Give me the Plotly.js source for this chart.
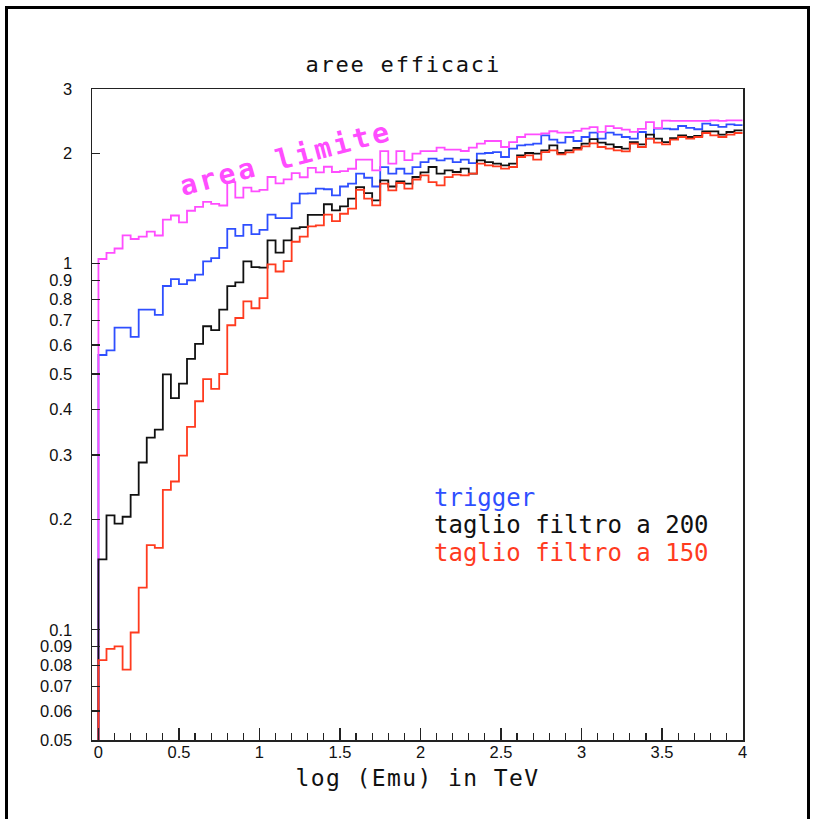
<!DOCTYPE html>
<html>
<head>
<meta charset="utf-8">
<script src="https://cdn.plot.ly/plotly-3.0.1.min.js"></script>
<style>
  html, body { margin: 0; padding: 0; background: #fff; }
  #wrap { position: relative; width: 814px; height: 819px; }
  #frame { position: absolute; left: 5px; top: 6px; width: 799px; height: 830px;
           border: 3px solid #000; pointer-events: none; z-index: 5; }
  #chart { position: absolute; left: 0; top: 0; width: 814px; height: 819px; }
</style>
</head>
<body>
<div id="wrap"><div id="chart"></div><div id="frame"></div></div>
<script>
// Histogram binning (80 bins of 0.05 from 0 to 4)
const BIN_START = 0;
const BIN_WIDTH = 0.05;

// Series values (one per bin)
const areaLimite = [
  1.03, 1.07, 1.10, 1.195, 1.168, 1.186, 1.223, 1.194, 1.32, 1.354,
  1.297, 1.395, 1.43, 1.475, 1.456, 1.442, 1.671, 1.515, 1.613, 1.576,
  1.59, 1.725, 1.658, 1.70, 1.767, 1.722, 1.827, 1.775, 1.84, 1.78,
  1.79, 1.817, 1.925, 1.925, 1.798, 2.03, 1.876, 2.03, 1.917, 1.998,
  2.03, 2.03, 2.075, 2.049, 2.049, 2.031, 2.075, 2.128, 2.163, 2.163,
  2.083, 2.149, 2.218, 2.256, 2.256, 2.27, 2.30, 2.28, 2.28, 2.305,
  2.338, 2.36, 2.29, 2.375, 2.345, 2.325, 2.29, 2.335, 2.437, 2.345,
  2.458, 2.455, 2.455, 2.455, 2.455, 2.455, 2.462, 2.455, 2.462, 2.462
];
const trigger = [
  0.563, 0.58, 0.669, 0.669, 0.631, 0.749, 0.749, 0.725, 0.869, 0.907,
  0.879, 0.901, 0.934, 1.014, 1.036, 1.105, 1.245, 1.191, 1.277, 1.205,
  1.237, 1.362, 1.331, 1.331, 1.461, 1.553, 1.556, 1.603, 1.597, 1.537,
  1.625, 1.654, 1.762, 1.717, 1.625, 1.836, 1.762, 1.817, 1.762, 1.836,
  1.895, 1.936, 1.915, 1.936, 1.895, 1.924, 1.883, 1.998, 2.006, 2.018,
  1.956, 2.062, 2.105, 2.114, 2.128, 2.241, 2.182, 2.141, 2.218, 2.163,
  2.218, 2.28, 2.195, 2.28, 2.252, 2.218, 2.195, 2.289, 2.195, 2.338,
  2.338, 2.329, 2.377, 2.348, 2.329, 2.413, 2.39, 2.363, 2.401, 2.39
];
const filtro200 = [
  0.1558, 0.2054, 0.1949, 0.2036, 0.2335, 0.2864, 0.335, 0.3522, 0.4986, 0.4292,
  0.4702, 0.5498, 0.6037, 0.6746, 0.6586, 0.7489, 0.8682, 0.8892, 1.015, 0.979,
  0.976, 1.158, 1.072, 1.158, 1.248, 1.259, 1.36, 1.36, 1.453, 1.398,
  1.434, 1.505, 1.619, 1.559, 1.489, 1.689, 1.625, 1.678, 1.654, 1.725,
  1.775, 1.837, 1.762, 1.799, 1.78, 1.818, 1.762, 1.915, 1.895, 1.876,
  1.856, 1.876, 1.976, 2.006, 1.998, 2.04, 2.105, 2.006, 2.04, 2.07,
  2.128, 2.19, 2.141, 2.119, 2.083, 2.062, 2.149, 2.119, 2.252, 2.195,
  2.149, 2.203, 2.241, 2.218, 2.233, 2.299, 2.299, 2.252, 2.289, 2.313
];
const filtro150 = [
  0.0826, 0.0887, 0.0901, 0.0778, 0.0983, 0.1303, 0.1703, 0.1674, 0.2412, 0.2541,
  0.2991, 0.3583, 0.4209, 0.4837, 0.4551, 0.4997, 0.679, 0.7107, 0.789, 0.7555,
  0.805, 0.996, 0.952, 1.016, 1.148, 1.185, 1.264, 1.273, 1.361, 1.307,
  1.369, 1.413, 1.592, 1.505, 1.443, 1.654, 1.586, 1.661, 1.603, 1.698,
  1.743, 1.671, 1.636, 1.724, 1.751, 1.743, 1.762, 1.876, 1.856, 1.845,
  1.818, 1.837, 1.956, 1.976, 1.924, 2.018, 2.04, 1.989, 2.013, 2.049,
  2.091, 2.13, 2.083, 2.062, 2.04, 2.027, 2.128, 2.083, 2.195, 2.141,
  2.119, 2.182, 2.218, 2.195, 2.218, 2.275, 2.241, 2.218, 2.252, 2.275
];

// Axis definitions
const Y_MIN = 0.05, Y_MAX = 3;
const X_MIN = -0.04, X_MAX = 4.003;
const yTickVals = [0.05, 0.06, 0.07, 0.08, 0.09, 0.1, 0.2, 0.3, 0.4, 0.5, 0.6, 0.7, 0.8, 0.9, 1, 2, 3];
const yTickText = ['0.05', '0.06', '0.07', '0.08', '0.09', '0.1', '0.2', '0.3', '0.4', '0.5', '0.6', '0.7', '0.8', '0.9', '1', '2', '3'];
const yMajorVals = [0.1, 1];
const xTickVals = [0, 0.5, 1, 1.5, 2, 2.5, 3, 3.5, 4];
const xTickText = ['0', '0.5', '1', '1.5', '2', '2.5', '3', '3.5', '4'];

const seriesNames = ['trigger', 'area limite', 'taglio filtro a 200', 'taglio filtro a 150'];
const seriesColors = ['#2f4fff', '#ff4dff', '#111111', '#ff3b1f'];
const seriesData = [trigger, areaLimite, filtro200, filtro150];

function stepTrace(vals, color, name) {
  // histogram outline: starts at the frame bottom, one step per bin
  const x = [BIN_START], y = [Y_MIN];
  vals.forEach((v, i) => { x.push(BIN_START + i * BIN_WIDTH); y.push(v); });
  x.push(BIN_START + vals.length * BIN_WIDTH); y.push(vals[vals.length - 1]);
  return { type: 'scatter', mode: 'lines', x: x, y: y, name: name,
           line: { shape: 'hv', color: color, width: 1.8 }, showlegend: false,
           hoverinfo: 'skip' };
}
const traces = seriesData.map((d, i) => stepTrace(d, seriesColors[i], seriesNames[i]));

const axisColor = '#222';
const tickFont = { family: 'Liberation Sans, Arial, sans-serif', size: 16.5, color: '#111' };
const monoFont = 'DejaVu Sans Mono, Liberation Mono, monospace';

const layout = {
  width: 814, height: 819,
  margin: { l: 92, r: 71, t: 89, b: 79 },
  paper_bgcolor: '#fff', plot_bgcolor: '#fff',
  title: { text: 'aree efficaci', font: { family: monoFont, size: 22, color: '#111' },
           xref: 'paper', x: 0.478, xanchor: 'center', yref: 'container', y: 0.921, yanchor: 'middle' },
  xaxis: {
    range: [X_MIN, X_MAX], showgrid: false, zeroline: false,
    showline: true, linecolor: axisColor, linewidth: 1.5, mirror: true,
    ticks: 'inside', ticklen: 12, tickwidth: 1.3, tickcolor: axisColor,
    tickmode: 'array', tickvals: xTickVals, ticktext: xTickText,
    tickfont: tickFont, ticklabelstandoff: -3,
    minor: { dtick: 0.1, tick0: 0, ticks: 'inside', ticklen: 7, tickwidth: 1.2, tickcolor: axisColor },
    title: { text: 'log (Emu) in TeV', font: { family: monoFont, size: 23, color: '#111' }, standoff: 9 }
  },
  yaxis: {
    type: 'log', range: [Math.log10(Y_MIN), Math.log10(Y_MAX)],
    showgrid: false, zeroline: false,
    showline: true, linecolor: axisColor, linewidth: 1.5, mirror: true,
    ticks: 'inside', ticklen: 8, tickwidth: 1.3, tickcolor: axisColor,
    tickmode: 'array', tickvals: yTickVals, ticktext: yTickText,
    tickfont: tickFont, ticklabelstandoff: 15
  },
  yaxis2: {
    type: 'log', range: [Math.log10(Y_MIN), Math.log10(Y_MAX)],
    overlaying: 'y', anchor: 'x', side: 'left',
    showgrid: false, zeroline: false, showline: false,
    ticks: 'inside', ticklen: 13, tickwidth: 1.3, tickcolor: axisColor,
    tickmode: 'array', tickvals: yMajorVals, showticklabels: false
  },
  annotations: [
    { text: 'area limite', xref: 'paper', yref: 'paper', x: 0.298, y: 0.893,
      xanchor: 'center', yanchor: 'middle', textangle: -15, showarrow: false,
      font: { family: monoFont, size: 28, color: seriesColors[1], weight: 'bold' } },
    { text: seriesNames[0], xref: 'paper', yref: 'paper', x: 0.522, y: 0.372,
      xanchor: 'left', yanchor: 'middle', showarrow: false,
      font: { family: monoFont, size: 24, color: seriesColors[0] } },
    { text: seriesNames[2], xref: 'paper', yref: 'paper', x: 0.522, y: 0.330,
      xanchor: 'left', yanchor: 'middle', showarrow: false,
      font: { family: monoFont, size: 24, color: seriesColors[2] } },
    { text: seriesNames[3], xref: 'paper', yref: 'paper', x: 0.522, y: 0.287,
      xanchor: 'left', yanchor: 'middle', showarrow: false,
      font: { family: monoFont, size: 24, color: seriesColors[3] } }
  ]
};

Plotly.newPlot('chart', traces, layout, { staticPlot: true }).then(function (gd) {
  const t = gd.querySelector('.gtitle'); if (t) t.style.letterSpacing = '1.8px';
  const xt = gd.querySelector('.xtitle'); if (xt) xt.style.letterSpacing = '1.4px';
  const ann = gd.querySelectorAll('.annotation-text');
  if (ann[0]) ann[0].style.letterSpacing = '3px';
});
</script>
</body>
</html>
